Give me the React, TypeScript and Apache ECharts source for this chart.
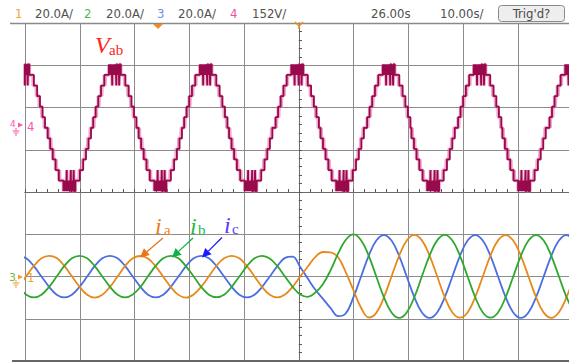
import React, { useEffect, useRef } from "react";
import * as echarts from "echarts";

// ---- scope settings (read from the header) ----
const CURRENT_A_PER_DIV = 20;
const VAB_V_PER_DIV = 152;
const CURRENT_OFFSET_DIV = -2.0;
const VAB_OFFSET_DIV = 1.52;
const TIME_MIN_MS = -50;
const TIME_MAX_MS = 49.3;
const TIME_DIV_MS = 10;

// ---- phase currents (A), sampled every 1.389 ms from -51.16 ms ----
const I_SAMPLE_START_MS = -51.16;
const I_SAMPLE_STEP_MS = 1.389;
const ia = [
  -4.9, 0.2, 5.0, 8.6, 9.8, 8.7, 5.0, 0.1, -4.8, -8.6, -10.0, -8.6, -4.9,
  0.0, 5.0, 8.6, 9.7, 8.5, 4.8, -0.1, -5.0, -8.7, -10.0, -8.5, -4.8,
  0.1, 5.1, 8.6, 9.8, 8.6, 4.9, 0.0, -5.0, -8.6, -9.9, -8.5, -4.9,
  0.0, 4.7, 9.3, 11.6, 11.4, 9.0, 2.0, -6.5, -14.8, -19.4, -17.2, -9.9,
  0.0, 9.8, 17.0, 19.7, 17.1, 9.9, 0.1, -9.8, -17.0, -19.5, -17.0, -9.7,
  0.0, 9.9, 17.1, 19.6, 17.0, 9.8, 0.0, -9.8, -17.1, -19.6, -16.9, -9.8, 0.0,
];
const ib = [
  -4.9, -8.6, -9.9, -8.6, -4.9, 0.0, 5.0, 8.6, 9.8, 8.6, 4.9, 0.0, -4.9,
  -8.6, -9.9, -8.5, -4.9, 0.1, 5.0, 8.6, 9.8, 8.6, 4.8, 0.0, -5.0,
  -8.6, -9.8, -8.6, -4.9, 0.0, 4.9, 8.6, 9.8, 8.5, 4.9, 0.0, -4.9,
  -8.5, -9.6, -7.6, -3.5, 3.0, 11.0, 17.4, 19.9, 17.2, 9.9, 0.0, -9.8,
  -17.0, -19.6, -17.0, -9.8, 0.1, 9.9, 17.1, 19.7, 17.0, 9.8, 0.0, -9.8,
  -17.0, -19.5, -17.0, -9.8, 0.0, 9.8, 17.0, 19.6, 17.0, 9.8, 0.0, -9.8, -17.0,
];
const ic = [
  9.8, 8.6, 4.9, 0.0, -4.9, -8.6, -9.9, -8.6, -4.9, 0.0, 5.0, 8.6, 9.8,
  8.6, 4.9, 0.0, -4.9, -8.6, -9.9, -8.6, -4.9, 0.0, 4.9, 8.6, 9.8,
  8.6, 4.9, 0.0, -4.9, -8.6, -9.9, -8.6, -4.9, 0.0, 4.9, 8.8, 9.4,
  4.5, -1.0, -6.3, -10.6, -15.0, -18.8, -17.4, -9.8, 0.0, 9.8, 17.0, 19.6,
  17.0, 9.8, 0.0, -9.8, -17.0, -19.6, -17.0, -9.8, 0.0, 9.8, 17.0, 19.6,
  17.0, 9.8, 0.0, -9.8, -17.0, -19.6, -17.0, -9.8, 0.0, 9.8, 17.0, 19.6, 17.0,
];

// ---- line voltage V_ab: multilevel staircase ----
const vabCrestMs = [-50.3, -33.6, -17.0, -0.3, 16.4, 33.0, 49.7];
const vabTroughMs = [-41.9, -25.3, -8.8, 7.9, 24.5, 41.1];
const vabLevelV = [0, 38, 76, 114, 152, 190, 228];
// time from the crest at which each level 1..6 is entered / left
const vabStepOffsetMs = [3.95, 3.5, 3.03, 2.52, 1.92, 1.09];
// switching notches on the crest plateau (offset from crest, ms)
const vabCrestNotchMs = [-0.98, -0.8, -0.62, -0.44, -0.26, -0.08, 0.1, 0.28, 0.46, 0.64, 0.82];
const vabCrestDeepNotchMs = [-0.55, 0.2, 0.72];
// short switching glitches just after each step (persistence trace)
const vabStepGlitchMs = 0.12;
const NOTCH_WIDTH_MS = 0.06;

function toDiv(ev: [number, number][]): [number, number][] {
  ev.sort((a, b) => a[0] - b[0]);
  return ev.map(([t, v]) => [t, VAB_OFFSET_DIV + v / VAB_V_PER_DIV]);
}

function halves(): [number, number][] {
  return [
    ...vabCrestMs.map((p) => [p, 1] as [number, number]),
    ...vabTroughMs.map((p) => [p, -1] as [number, number]),
  ];
}

function buildVab(withGlitches: boolean): [number, number][] {
  const ev: [number, number][] = [];
  for (const [p, s] of halves()) {
    for (let k = 1; k < vabLevelV.length; k++) {
      const up = p - vabStepOffsetMs[k - 1];
      const down = p + vabStepOffsetMs[k - 1];
      ev.push([up, s * vabLevelV[k]]);
      ev.push([down, s * vabLevelV[k - 1]]);
      if (withGlitches && k < vabLevelV.length - 1) {
        ev.push([up + vabStepGlitchMs, s * vabLevelV[k - 1]]);
        ev.push([up + vabStepGlitchMs + 0.04, s * vabLevelV[k]]);
        ev.push([down - vabStepGlitchMs - 0.04, s * vabLevelV[k]]);
        ev.push([down - vabStepGlitchMs, s * vabLevelV[k - 1]]);
      }
    }
    for (const c of vabCrestNotchMs) {
      ev.push([p + c, s * vabLevelV[5]]);
      ev.push([p + c + NOTCH_WIDTH_MS, s * vabLevelV[6]]);
    }
    for (const c of vabCrestDeepNotchMs) {
      ev.push([p + c + 0.07, s * vabLevelV[4]]);
      ev.push([p + c + 0.1, s * vabLevelV[6]]);
    }
  }
  return toDiv(ev);
}

function currentSeries(vals: number[]): [number, number][] {
  return vals.map((v, i) => [
    I_SAMPLE_START_MS + i * I_SAMPLE_STEP_MS,
    CURRENT_OFFSET_DIV + v / CURRENT_A_PER_DIV,
  ]);
}

// ---- header ----
const HEADER_FONT = "13px 'DejaVu Sans Condensed', 'DejaVu Sans', sans-serif";
const headerTexts = ["1", "20.0A/", "2", "20.0A/", "3", "20.0A/", "4", "152V/", "26.00s", "10.00s/"];
const headerX = [15, 35, 84, 106, 157, 178, 230, 252, 371, 440];
const headerColors = ["#f5a13a", "#505050", "#52b852", "#505050", "#6f8fe6", "#505050", "#f0509e", "#505050", "#505050", "#505050"];

function txt(text: string, x: number, y: number, font: string, fill: string, align = "left") {
  return {
    type: "text",
    x,
    y,
    z: 100,
    style: {
      text,
      font,
      fill,
      align,
      textAlign: align,
      verticalAlign: "middle",
      textVerticalAlign: "middle",
    },
  };
}

function seg(x1: number, y1: number, x2: number, y2: number, stroke: string, lineWidth = 1) {
  return { type: "line", z: 100, shape: { x1, y1, x2, y2 }, style: { stroke, lineWidth } };
}

function arrow(x1: number, y1: number, x2: number, y2: number, color: string) {
  const dx = x2 - x1;
  const dy = y2 - y1;
  const len = Math.hypot(dx, dy);
  const ux = dx / len;
  const uy = dy / len;
  const hl = 9;
  const hw = 4.5;
  const bx = x2 - ux * hl;
  const by = y2 - uy * hl;
  return [
    seg(x1, y1, bx, by, color, 1.3),
    {
      type: "polygon",
      z: 100,
      shape: { points: [[x2, y2], [bx - uy * hw, by + ux * hw], [bx + uy * hw, by - ux * hw]] },
      style: { fill: color },
    },
  ];
}

function ground(cx: number, y: number, color: string) {
  return [
    seg(cx, y, cx, y + 3, color, 1),
    seg(cx - 3.5, y + 3, cx + 3.5, y + 3, color, 1),
    seg(cx - 2.2, y + 5, cx + 2.2, y + 5, color, 1),
    seg(cx - 1, y + 7, cx + 1, y + 7, color, 1),
  ];
}

const SERIF_I = "italic 24px 'Liberation Serif', 'DejaVu Serif', serif";
const SERIF_SUB = "15px 'Liberation Serif', 'DejaVu Serif', serif";

export default function App() {
  const ref = useRef<HTMLDivElement>(null);
  useEffect(() => {
    if (!ref.current) return;
    const chart = echarts.init(ref.current, undefined, { renderer: "svg", width: 569, height: 362 });

    const axisCommon = {
      type: "value",
      axisLabel: { show: false },
    };

    const graphic: any[] = [
      seg(10, 23.5, 569, 23.5, "#8a8a8a", 1.5),
      seg(12, 361, 569, 361, "#666666", 2),
      ...headerTexts.map((t, i) => txt(t, headerX[i], 13, HEADER_FONT, headerColors[i])),
      {
        type: "rect",
        z: 100,
        shape: { x: 498.5, y: 5.5, width: 66, height: 16, r: 3 },
        style: { fill: "#eeeeee", stroke: "#8a8a8a", lineWidth: 1 },
      },
      txt("Trig'd?", 531.5, 13.5, HEADER_FONT, "#4a4a4a", "center"),
      {
        type: "polygon",
        z: 100,
        shape: { points: [[153, 24], [163, 24], [158, 29]] },
        style: { fill: "#f08a20" },
      },
      seg(295, 22, 299, 26, "#f08a20", 1.5),
      seg(303, 22, 299, 26, "#f08a20", 1.5),
      seg(299, 26, 299, 29, "#f08a20", 1.5),
      txt("V", 95, 45, "italic 24px 'Liberation Serif', 'DejaVu Serif', serif", "#ff2323"),
      txt("ab", 109, 50, SERIF_SUB, "#ff2323"),
      txt("i", 155, 226, SERIF_I, "#e8811e"),
      txt("a", 164, 229.5, SERIF_SUB, "#e8811e"),
      txt("i", 190, 226, SERIF_I, "#2cb84a"),
      txt("b", 198, 229.5, SERIF_SUB, "#2cb84a"),
      txt("i", 224, 225, SERIF_I, "#5a3cf5"),
      txt("c", 232, 228.5, SERIF_SUB, "#5a3cf5"),
      ...arrow(163, 238, 140, 257.5, "#e8751a"),
      ...arrow(193, 238, 172, 257.5, "#12b04a"),
      ...arrow(222, 237.5, 202, 257.5, "#1a1aff"),
      txt("4", 10, 124, "9px 'DejaVu Sans', sans-serif", "#ff55aa"),
      { type: "polygon", z: 100, shape: { points: [[18, 122.5], [18, 127.5], [23, 125]] }, style: { fill: "#ff55aa" } },
      ...ground(16, 128, "#ff55aa"),
      txt("4", 27, 126, "13px 'DejaVu Sans Condensed', 'DejaVu Sans', sans-serif", "#ff55aa"),
      txt("3", 9, 277, "11px 'DejaVu Sans', sans-serif", "#7ab648"),
      { type: "polygon", z: 100, shape: { points: [[18, 274.5], [18, 279.5], [23, 277]] }, style: { fill: "#f0a030" } },
      ...ground(16, 280, "#f0a030"),
      txt("1", 27, 277, "13px 'DejaVu Sans Condensed', 'DejaVu Sans', sans-serif", "#f0a030"),
    ];

    const lineBase = {
      type: "line",
      showSymbol: false,
      symbol: "none",
      clip: true,
      silent: true,
    };

    const tickStyle = { color: "#555" };

    chart.setOption({
      animation: false,
      backgroundColor: "#ffffff",
      grid: { left: 25, top: 23, right: 0, bottom: 1 },
      xAxis: [
        {
          ...axisCommon,
          min: TIME_MIN_MS,
          max: TIME_MAX_MS,
          interval: TIME_DIV_MS,
          splitLine: { show: true, lineStyle: { color: "#8c8c8c", width: 1 } },
          axisLine: { show: true, onZero: true, lineStyle: { color: "#6a6a6a", width: 1 } },
          axisTick: { show: true, inside: true, length: 3, lineStyle: tickStyle },
          minorTick: { show: true, splitNumber: 5, length: 3, lineStyle: tickStyle },
        },
        {
          ...axisCommon,
          min: TIME_MIN_MS,
          max: TIME_MAX_MS,
          interval: TIME_DIV_MS,
          splitLine: { show: false },
          axisLine: { show: true, onZero: true, lineStyle: { color: "#6a6a6a", width: 1 } },
          axisTick: { show: true, inside: false, length: 3, lineStyle: tickStyle },
          minorTick: { show: true, splitNumber: 5, length: 3, lineStyle: tickStyle },
        },
      ],
      yAxis: [
        {
          ...axisCommon,
          min: -4,
          max: 4,
          interval: 1,
          splitLine: { show: true, lineStyle: { color: "#8c8c8c", width: 1 } },
          axisLine: { show: true, onZero: true, lineStyle: { color: "#6a6a6a", width: 1 } },
          axisTick: { show: true, inside: true, length: 3, lineStyle: tickStyle },
          minorTick: { show: true, splitNumber: 5, length: 3, lineStyle: tickStyle },
        },
        {
          ...axisCommon,
          min: -4,
          max: 4,
          interval: 1,
          splitLine: { show: false },
          axisLine: { show: true, onZero: true, lineStyle: { color: "#6a6a6a", width: 1 } },
          axisTick: { show: true, inside: false, length: 3, lineStyle: tickStyle },
          minorTick: { show: true, splitNumber: 5, length: 3, lineStyle: tickStyle },
        },
      ],
      series: [
        {
          ...lineBase,
          name: "Vab persistence",
          step: "end",
          data: buildVab(true),
          z: 3,
          lineStyle: { color: "rgba(225,95,160,0.55)", width: 3.5 },
        },
        {
          ...lineBase,
          name: "Vab",
          step: "end",
          data: buildVab(false),
          z: 4,
          lineStyle: { color: "#990a4c", width: 1.8 },
        },
        {
          ...lineBase,
          name: "ic",
          smooth: 0.4,
          data: currentSeries(ic),
          z: 5,
          lineStyle: { color: "#4b6fe0", width: 1.8 },
        },
        {
          ...lineBase,
          name: "ia",
          smooth: 0.4,
          data: currentSeries(ia),
          z: 5,
          lineStyle: { color: "#e68a1c", width: 1.8 },
        },
        {
          ...lineBase,
          name: "ib",
          smooth: 0.4,
          data: currentSeries(ib),
          z: 5,
          lineStyle: { color: "#2fa82f", width: 1.8 },
        },
      ],
      graphic,
    });
    return () => chart.dispose();
  }, []);
  return (
    <div
      ref={ref}
      style={{ position: "fixed", left: 0, top: 0, width: 569, height: 362, background: "#fff" }}
    />
  );
}
